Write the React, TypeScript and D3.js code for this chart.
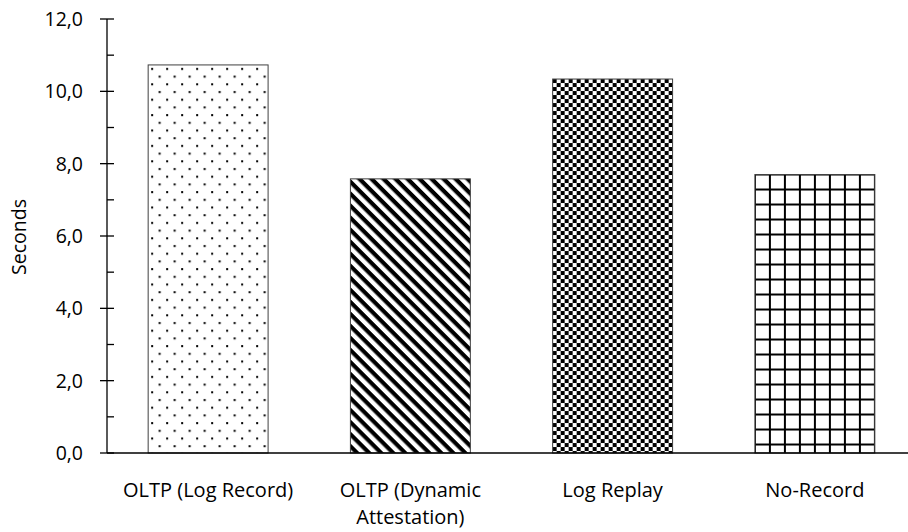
import React from 'react';
import * as d3 from 'd3';

const categories = [['OLTP (Log Record)'], ['OLTP (Dynamic', 'Attestation)'], ['Log Replay'], ['No-Record']];
const seconds = [10.73, 7.58, 10.34, 7.70];
const patternIds = ['dots', 'stripes', 'checker', 'grid'];
const majorTicks = [0, 2, 4, 6, 8, 10, 12];
const minorTicks = [1, 3, 5, 7, 9, 11];

const W = 908;
const H = 532;
const margin = { top: 19, left: 107, bottom: 79 };
const FONT = '"Open Sans", Lato, sans-serif';

export default function App() {
  const x = d3.scaleBand<number>()
    .domain(d3.range(categories.length))
    .range([margin.left, margin.left + 809])
    .paddingInner(0.407)
    .paddingOuter(0.2035);
  const y = d3.scaleLinear().domain([0, 12]).range([H - margin.bottom, margin.top]);
  const fmt = (v: number) => d3.format('.1f')(v).replace('.', ',');
  const bw = x.bandwidth();

  return (
    <svg width={W} height={H} style={{ position: 'absolute', left: 0, top: 0 }}>
      <defs>
        {seconds.map((v, i) => {
          const bx = x(i)!;
          const by = y(v);
          const id = patternIds[i];
          if (id === 'dots') {
            return (
              <pattern key={id} id={id} patternUnits="userSpaceOnUse" x={bx} y={by} width={15} height={15.4}>
                <rect width={15} height={15.4} fill="#fff" />
                <rect x={3} y={3} width={2} height={2} fill="#000" />
                <rect x={10.5} y={10.7} width={2} height={2} fill="#000" />
              </pattern>
            );
          }
          if (id === 'stripes') {
            return (
              <pattern key={id} id={id} patternUnits="userSpaceOnUse" x={bx} y={by} width={8.5} height={8.5}
                patternTransform={`rotate(45 ${bx} ${by})`}>
                <rect width={8.5} height={8.5} fill="#fff" />
                <rect width={8.5} height={4.2} fill="#000" />
              </pattern>
            );
          }
          if (id === 'checker') {
            return (
              <pattern key={id} id={id} patternUnits="userSpaceOnUse" x={bx} y={by} width={8} height={8}>
                <rect width={8} height={8} fill="#fff" />
                <rect width={4} height={4} fill="#000" />
                <rect x={4} y={4} width={4} height={4} fill="#000" />
              </pattern>
            );
          }
          return (
            <pattern key={id} id={id} patternUnits="userSpaceOnUse" x={bx - 1} y={by - 1} width={15} height={15}>
              <rect width={15} height={15} fill="#fff" />
              <rect width={15} height={2} fill="#000" />
              <rect width={2} height={15} fill="#000" />
            </pattern>
          );
        })}
      </defs>

      {/* bars */}
      {seconds.map((v, i) => (
        <rect key={i} x={x(i)} y={y(v)} width={bw} height={y(0) - y(v)}
          fill={`url(#${patternIds[i]})`} stroke="#404040" strokeWidth={1} />
      ))}

      {/* y axis */}
      <line x1={margin.left} x2={margin.left} y1={y(12)} y2={y(0)} stroke="#000" strokeWidth={1.3} />
      {majorTicks.map(t => (
        <g key={t}>
          <line x1={margin.left - 7} x2={margin.left + 7} y1={y(t)} y2={y(t)} stroke="#000" strokeWidth={1.3} />
          <text x={83} y={y(t)} dy="0.36em" textAnchor="end" fontFamily={FONT} fontSize={19.5} fill="#000">
            {fmt(t)}
          </text>
        </g>
      ))}
      {minorTicks.map(t => (
        <line key={t} x1={margin.left} x2={margin.left + 7} y1={y(t)} y2={y(t)} stroke="#000" strokeWidth={1.3} />
      ))}
      <text transform={`translate(26, 237) rotate(-90)`} textAnchor="middle" fontFamily={FONT} fontSize={19.5} fill="#000">
        Seconds
      </text>

      {/* x axis */}
      <line x1={margin.left} x2={W} y1={y(0)} y2={y(0)} stroke="#000" strokeWidth={1.3} />
      {categories.map((lines, i) => (
        <text key={i} textAnchor="middle" fontFamily={FONT} fontSize={20} fill="#000">
          {lines.map((l, j) => (
            <tspan key={j} x={x(i)! + bw / 2} y={497 + j * 27}>{l}</tspan>
          ))}
        </text>
      ))}
    </svg>
  );
}
